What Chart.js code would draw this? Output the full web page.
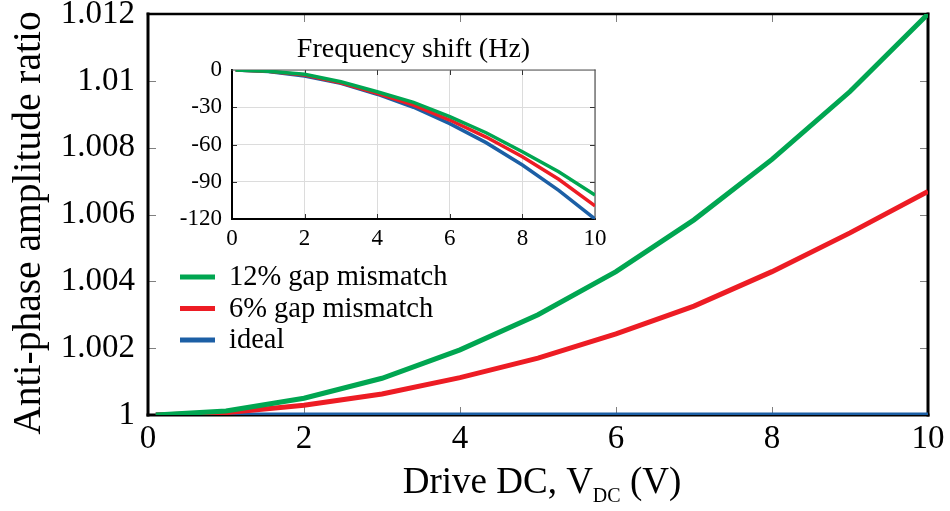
<!DOCTYPE html>
<html>
<head>
<meta charset="utf-8">
<script src="https://cdn.jsdelivr.net/npm/chart.js@4.4.1/dist/chart.umd.min.js"></script>
<style>
  html, body { margin: 0; padding: 0; background: #fff; }
  #wrap { position: relative; width: 950px; height: 511px; }
  #mainChart { position: absolute; left: 0; top: 0; }
  #insetChart { position: absolute; left: 160px; top: 20px; }
</style>
</head>
<body>
<div id="wrap">
  <canvas id="mainChart" width="950" height="511"></canvas>
  <canvas id="insetChart" width="450" height="240"></canvas>
</div>
<script>
// drive voltage (V)
const voltage = [0.1, 1, 2, 3, 4, 5, 6, 7, 8, 9, 10];

// anti-phase amplitude ratio
const ratio12 = [1.0000, 1.00012, 1.0005, 1.0011, 1.00195, 1.0030, 1.00429, 1.00584, 1.00765, 1.00968, 1.0120];
const ratio6 = [1.0000, 1.00007, 1.00029, 1.00063, 1.00112, 1.0017, 1.00243, 1.00326, 1.00429, 1.00545, 1.00669];
const ratioIdeal = [1, 1, 1, 1, 1, 1, 1, 1, 1, 1, 1];

// frequency shift (Hz), inset
const shift12 = [0, -1, -3.5, -9.5, -17.5, -26, -37.6, -50.5, -65.8, -82, -100.7];
const shift6 = [0, -1.1, -4, -10.3, -18.8, -28.3, -40.3, -54, -69.8, -88, -109.5];
const shiftIdeal = [0, -1.2, -4.8, -10.8, -19.5, -30, -43.2, -58.5, -76.5, -97, -120];

const seriesLabels = ['12% gap mismatch', '6% gap mismatch', 'ideal'];
const seriesColors = ['#00a651', '#ed1c24', '#1c5fa5'];

const xTicks = [0, 2, 4, 6, 8, 10];
const ratioTicks = [1, 1.002, 1.004, 1.006, 1.008, 1.01, 1.012];
const shiftTicks = [-120, -90, -60, -30, 0];

const serif = "'Liberation Serif', 'Times New Roman', serif";
Chart.defaults.font.family = serif;
Chart.defaults.color = '#000';

function points(ys) {
    return voltage.map((v, i) => ({ x: v, y: ys[i] }));
}

function makeDatasets(list, width) {
    return list.map((ys, i) => ({
        label: seriesLabels[i],
        data: points(ys),
        borderColor: seriesColors[i],
        backgroundColor: seriesColors[i],
        borderWidth: width,
        pointRadius: 0,
        tension: 0,
        borderCapStyle: 'butt'
    }));
}

// keep tick labels from pushing the plot area inwards
function noLabelPadding(s) {
    s.paddingTop = 0;
    s.paddingBottom = 0;
    s.paddingLeft = 0;
    s.paddingRight = 0;
}

// box around the plot + short ticks pointing inwards
const frameTicks = {
    id: 'frameTicks',
    beforeDatasetsDraw(chart, args, opts) {
        const ctx = chart.ctx;
        const a = chart.chartArea;
        const xs = chart.scales.x, ys = chart.scales.y;
        ctx.save();
        ctx.strokeStyle = opts.tickColor;
        ctx.lineWidth = opts.tickWidth;
        ctx.beginPath();
        xs.ticks.forEach(t => {
            const px = Math.round(xs.getPixelForValue(t.value)) + 0.5;
            if (px <= a.left + 2 || px >= a.right - 2) return;
            ctx.moveTo(px, a.bottom); ctx.lineTo(px, a.bottom - opts.tickLen);
            ctx.moveTo(px, a.top); ctx.lineTo(px, a.top + opts.tickLen);
        });
        ys.ticks.forEach(t => {
            const py = Math.round(ys.getPixelForValue(t.value)) + 0.5;
            if (py <= a.top + 2 || py >= a.bottom - 2) return;
            ctx.moveTo(a.left, py); ctx.lineTo(a.left + opts.tickLen, py);
            ctx.moveTo(a.right, py); ctx.lineTo(a.right - opts.tickLen, py);
        });
        ctx.stroke();

        const sides = [
            ['left', a.left, a.top, a.left, a.bottom],
            ['bottom', a.left, a.bottom, a.right, a.bottom],
            ['top', a.left, a.top, a.right, a.top],
            ['right', a.right, a.top, a.right, a.bottom]
        ];
        ctx.lineCap = 'square';
        sides.forEach(([name, x1, y1, x2, y2]) => {
            const [color, w] = opts[name];
            ctx.strokeStyle = color;
            ctx.lineWidth = w;
            ctx.beginPath();
            ctx.moveTo(x1, y1);
            ctx.lineTo(x2, y2);
            ctx.stroke();
        });
        ctx.restore();
    }
};

// legend drawn inside the plot area
const innerLegend = {
    id: 'innerLegend',
    afterDatasetsDraw(chart, args, opts) {
        const ctx = chart.ctx;
        ctx.save();
        ctx.font = opts.fontSize + 'px ' + serif;
        ctx.textBaseline = 'middle';
        chart.data.datasets.forEach((ds, i) => {
            const y = opts.y + i * opts.rowGap;
            ctx.strokeStyle = ds.borderColor;
            ctx.lineWidth = opts.lineWidth;
            ctx.beginPath();
            ctx.moveTo(opts.x, y);
            ctx.lineTo(opts.x + opts.lineLen, y);
            ctx.stroke();
            ctx.fillStyle = '#000';
            ctx.fillText(ds.label, opts.x + opts.lineLen + opts.gap, y + 1);
        });
        ctx.restore();
    }
};

// axis titles; the x title has a subscript
const axisTitles = {
    id: 'axisTitles',
    afterDraw(chart, args, opts) {
        const ctx = chart.ctx;
        const a = chart.chartArea;
        ctx.save();
        ctx.fillStyle = '#000';

        if (opts.y) {
            ctx.save();
            ctx.translate(opts.y.x, opts.y.cy);
            ctx.rotate(-Math.PI / 2);
            ctx.font = opts.y.size + 'px ' + serif;
            ctx.textAlign = 'center';
            ctx.textBaseline = 'middle';
            ctx.fillText(opts.y.text, 0, 0);
            ctx.restore();
        }

        if (opts.top) {
            ctx.font = opts.top.size + 'px ' + serif;
            ctx.textAlign = 'center';
            ctx.textBaseline = 'alphabetic';
            ctx.fillText(opts.top.text, (a.left + a.right) / 2, opts.top.y);
        }

        if (opts.x) {
            const o = opts.x;
            const head = 'Drive DC, V', sub = 'DC', tail = ' (V)';
            ctx.textAlign = 'left';
            ctx.textBaseline = 'alphabetic';
            ctx.font = o.size + 'px ' + serif;
            const w1 = ctx.measureText(head).width;
            const w3 = ctx.measureText(tail).width;
            ctx.font = o.subSize + 'px ' + serif;
            const w2 = ctx.measureText(sub).width;
            let x = (a.left + a.right) / 2 + o.shift - (w1 + w2 + w3) / 2;
            ctx.font = o.size + 'px ' + serif;
            ctx.fillText(head, x, o.y);
            x += w1;
            ctx.font = o.subSize + 'px ' + serif;
            ctx.fillText(sub, x, o.y + o.subDrop);
            x += w2;
            ctx.font = o.size + 'px ' + serif;
            ctx.fillText(tail, x, o.y);
        }
        ctx.restore();
    }
};

const mainCtx = document.getElementById('mainChart').getContext('2d');
const mainChart = new Chart(mainCtx, {
    type: 'line',
    data: { datasets: makeDatasets([ratio12, ratio6, ratioIdeal], 5) },
    options: {
        responsive: false,
        animation: false,
        layout: { padding: { left: 0, right: 22, top: 14, bottom: 0 } },
        scales: {
            x: {
                type: 'linear',
                min: 0, max: 10,
                afterBuildTicks: s => { s.ticks = xTicks.map(v => ({ value: v })); },
                afterFit: s => { s.height = 96; noLabelPadding(s); },
                grid: { display: false, drawTicks: false },
                border: { display: false },
                ticks: { font: { size: 33 }, padding: 5, maxRotation: 0 }
            },
            y: {
                min: 1, max: 1.012,
                afterBuildTicks: s => { s.ticks = ratioTicks.map(v => ({ value: v })); },
                afterFit: s => { s.width = 148; noLabelPadding(s); },
                grid: { display: false, drawTicks: false },
                border: { display: false },
                ticks: {
                    font: { size: 33 }, padding: 13,
                    callback: v => String(+v.toFixed(3))
                }
            }
        },
        plugins: {
            legend: { display: false },
            tooltip: { enabled: false },
            frameTicks: {
                tickLen: 8, tickColor: '#808080', tickWidth: 1,
                left: ['#000', 3], bottom: ['#000', 3], top: ['#000', 2.5], right: ['#000', 3]
            },
            innerLegend: { x: 180, y: 277, rowGap: 31.5, lineLen: 35, lineWidth: 5, gap: 14, fontSize: 28.5 },
            axisTitles: {
                y: { text: 'Anti-phase amplitude ratio', size: 39.5, x: 30, cy: 223 },
                x: { y: 493, size: 37, subSize: 20, subDrop: 9, shift: 4 }
            }
        }
    },
    plugins: [frameTicks, innerLegend, axisTitles]
});

const insetCtx = document.getElementById('insetChart').getContext('2d');
const insetChart = new Chart(insetCtx, {
    type: 'line',
    data: { datasets: makeDatasets([shift12, shift6, shiftIdeal], 3.5) },
    options: {
        responsive: false,
        animation: false,
        layout: { padding: { left: 0, right: 15, top: 50, bottom: 0 } },
        scales: {
            x: {
                type: 'linear',
                min: 0, max: 10,
                afterBuildTicks: s => { s.ticks = xTicks.map(v => ({ value: v })); },
                afterFit: s => { s.height = 41; noLabelPadding(s); },
                grid: { color: '#dcdcdc', lineWidth: 1, drawTicks: false },
                border: { display: false },
                ticks: { font: { size: 23 }, padding: 6, maxRotation: 0 }
            },
            y: {
                min: -120, max: 0,
                afterBuildTicks: s => { s.ticks = shiftTicks.map(v => ({ value: v })); },
                afterFit: s => { s.width = 72; noLabelPadding(s); },
                grid: { color: '#dcdcdc', lineWidth: 1, drawTicks: false },
                border: { display: false },
                ticks: { font: { size: 23 }, padding: 10 }
            }
        },
        plugins: {
            legend: { display: false },
            tooltip: { enabled: false },
            frameTicks: {
                tickLen: 5, tickColor: '#333', tickWidth: 1,
                left: ['#000', 2], bottom: ['#000', 2], top: ['#555', 1.2], right: ['#555', 1.2]
            },
            axisTitles: {
                top: { text: 'Frequency shift (Hz)', size: 28, y: 37 }
            }
        }
    },
    plugins: [frameTicks, axisTitles]
});
</script>
</body>
</html>
